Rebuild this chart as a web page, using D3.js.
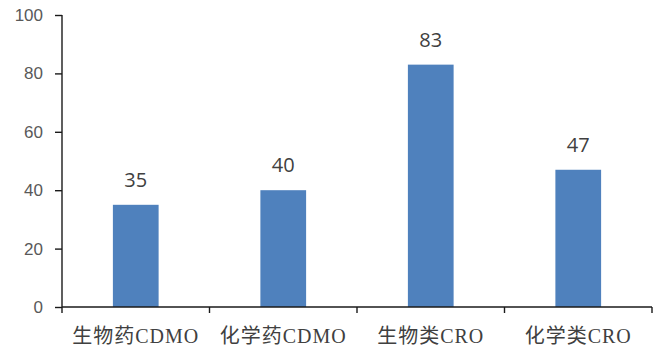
<!DOCTYPE html>
<html>
<head>
<meta charset="utf-8">
<script src="https://cdn.jsdelivr.net/npm/d3@7"></script>
<style>
  body { margin: 0; background: #fff; }
  .axis path, .axis line { stroke: #1a1a1a; stroke-width: 1.4; }
</style>
</head>
<body>
<div id="chart"></div>
<script>
const categories = ["生物药CDMO", "化学药CDMO", "生物类CRO", "化学类CRO"];
const values = [35, 40, 83, 47];
const yTicks = [0, 20, 40, 60, 80, 100];

const width = 661,
      height = 348,
      margin = ({ top: 15, right: 9, bottom: 41, left: 62 });

let svg = d3.select("#chart")
    .append("svg")
    .attr("width", width)
    .attr("height", height);

let x = d3.scaleBand()
    .domain(categories)
    .range([margin.left, width - margin.right])
    .paddingInner(0.69)
    .paddingOuter(0.345);

let y = d3.scaleLinear()
    .domain([0, 100])
    .range([height - margin.bottom, margin.top]);

// bars first so axis line sits on top
svg.selectAll(".bar")
    .data(values)
    .join("rect")
    .attr("class", "bar")
    .attr("fill", "#4f81bd")
    .attr("x", (d, i) => x(categories[i]))
    .attr("width", x.bandwidth())
    .attr("y", d => y(d))
    .attr("height", d => y(0) - y(d));

svg.selectAll(".val")
    .data(values)
    .join("text")
    .attr("class", "val")
    .attr("x", (d, i) => x(categories[i]) + x.bandwidth() / 2)
    .attr("y", d => y(d) - 18)
    .attr("text-anchor", "middle")
    .attr("font-family", "'Open Sans', sans-serif")
    .attr("font-size", 20)
    .attr("fill", "#404040")
    .text(d => d);

// y axis
svg.append("g")
    .attr("class", "axis y-axis")
    .attr("transform", `translate(${margin.left},0)`)
    .call(d3.axisLeft(y).tickValues(yTicks).tickSize(7).tickSizeOuter(0).tickPadding(12))
    .call(g => g.select(".domain").attr("d", `M0,${y(100)}V${y(0)}`))
    .call(g => g.selectAll("text")
        .attr("font-family", "'Liberation Sans', Arial, sans-serif")
        .attr("font-size", 17)
        .attr("fill", "#595959"));

// x axis: ticks at category boundaries
let bounds = d3.range(categories.length + 1)
    .map(i => margin.left + i * (width - margin.left - margin.right) / categories.length);

let xg = svg.append("g")
    .attr("class", "axis x-axis");

xg.append("path")
    .attr("d", `M${margin.left},${y(0)}H${width - margin.right}`)
    .attr("fill", "none");

xg.selectAll("line")
    .data(bounds)
    .join("line")
    .attr("x1", d => d).attr("x2", d => d)
    .attr("y1", y(0)).attr("y2", y(0) + 6);

xg.selectAll("text")
    .data(categories)
    .join("text")
    .attr("x", d => x(d) + x.bandwidth() / 2)
    .attr("y", 343)
    .attr("text-anchor", "middle")
    .attr("font-family", "'Liberation Serif', 'Noto Sans CJK SC', serif")
    .attr("font-size", 20)
    .attr("letter-spacing", 1)
    .attr("fill", "#404040")
    .text(d => d);
</script>
</body>
</html>
